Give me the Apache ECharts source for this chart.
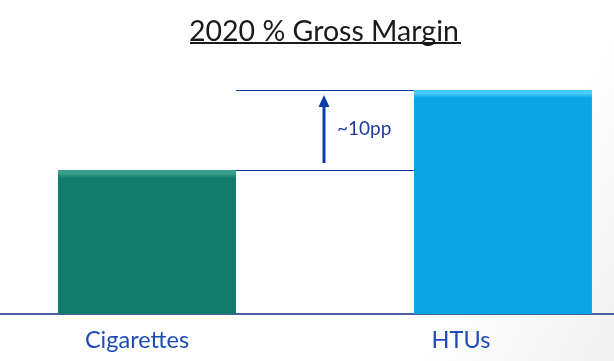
<!DOCTYPE html>
<html><head><meta charset="utf-8">
<script src="https://cdn.jsdelivr.net/npm/echarts@6/dist/echarts.min.js"></script>
<style>html,body{margin:0;padding:0;background:#fff}#c{width:614px;height:361px}</style>
</head><body><div id="c"></div>
<script>
var titleText = '2020 % Gross Margin';
var categories = ['Cigarettes', 'HTUs'];
var marginValues = [62, 72];
var deltaLabel = '~10pp';

var chart = echarts.init(document.getElementById('c'), null, {renderer: 'canvas'});
var barColors = [
  {top: '#3A9F8B', base: '#137B69'},
  {top: '#45CCF7', base: '#0BA5E6'}
];
var option = {
  animation: false,
  backgroundColor: {type: 'linear', x: 0, y: 0, x2: 1, y2: 1, colorStops: [
    {offset: 0, color: '#ffffff'}, {offset: 0.75, color: '#ffffff'}, {offset: 1, color: '#f2f2f2'}]},
  title: {
    text: titleText, left: 184, top: 12,
    textStyle: {fontFamily: 'Lato', fontSize: 28.5, fontWeight: 'normal', color: '#1a1a1a'}
  },
  grid: {left: 0, right: 0, top: 26, bottom: 47},
  xAxis: {
    type: 'value', min: -0.413, max: 1.312,
    splitLine: {show: false},
    axisLine: {show: true, onZero: false, lineStyle: {color: '#102A83', width: 1.5}},
    axisTick: {show: false},
    axisLabel: {
      margin: 14,
      customValues: [0, 1],
      formatter: function (v) {
        var i = Math.round(v);
        return i === 0 ? '{a|' + categories[0] + '}' : '{b|' + categories[1] + '}';
      },
      rich: {
        a: {fontFamily: 'Lato', fontSize: 23.5, color: '#1E4BB5', padding: [0, 20, 0, 0]},
        b: {fontFamily: 'Lato', fontSize: 23.5, color: '#1E4BB5', padding: [0, 84, 0, 0]}
      }
    }
  },
  yAxis: {type: 'value', min: 44, max: 80, show: false, splitLine: {show: false}},
  series: [{
    type: 'bar', barWidth: 178,
    data: marginValues.map(function (v, i) {
      return {value: [i, v], itemStyle: {
        color: {type: 'linear', x: 0, y: 0, x2: 0, y2: 1, colorStops: [
          {offset: 0, color: barColors[i].top},
          {offset: i === 0 ? 0.025 : 0.016, color: barColors[i].top},
          {offset: i === 0 ? 0.055 : 0.035, color: barColors[i].base},
          {offset: 1, color: barColors[i].base}]},
        shadowColor: 'rgba(0,0,0,0.4)', shadowBlur: 5, shadowOffsetX: 3, shadowOffsetY: 3
      }};
    })
  }]
};
chart.setOption(option);

function drawAnnotations() {
  var bw = 178;
  var p0 = chart.convertToPixel({gridIndex: 0}, [0, marginValues[0]]);
  var p1 = chart.convertToPixel({gridIndex: 0}, [1, marginValues[1]]);
  var xL = p0[0] + bw / 2, xR = p1[0] - bw / 2;
  var ax = 324;
  var yTop = Math.round(p1[1]) + 0.5, yBot = Math.round(p0[1]) + 0.5;
  chart.setOption({graphic: [
    {type: 'rect', shape: {x: 190, y: 42, width: 271, height: 2}, style: {fill: '#1a1a1a'}},
    {type: 'line', shape: {x1: xL, y1: yTop, x2: xR, y2: yTop}, style: {stroke: '#0A3A9E', lineWidth: 1}},
    {type: 'line', shape: {x1: xL, y1: yBot, x2: xR, y2: yBot}, style: {stroke: '#0A3A9E', lineWidth: 1}},
    {type: 'line', shape: {x1: ax, y1: p0[1] - 7, x2: ax, y2: p1[1] + 14}, style: {stroke: '#0C3FA6', lineWidth: 3}},
    {type: 'polygon', shape: {points: [[ax, p1[1] + 5], [ax - 5.5, p1[1] + 17], [ax + 5.5, p1[1] + 17]]}, style: {fill: '#0C3FA6'}},
    {type: 'text', z: 100, x: 337, y: (p0[1] + p1[1]) / 2 - 1, style: {text: deltaLabel, font: '19px Lato', fill: '#1E3C9E', verticalAlign: 'middle'}}
  ]});
}
drawAnnotations();
</script></body></html>
